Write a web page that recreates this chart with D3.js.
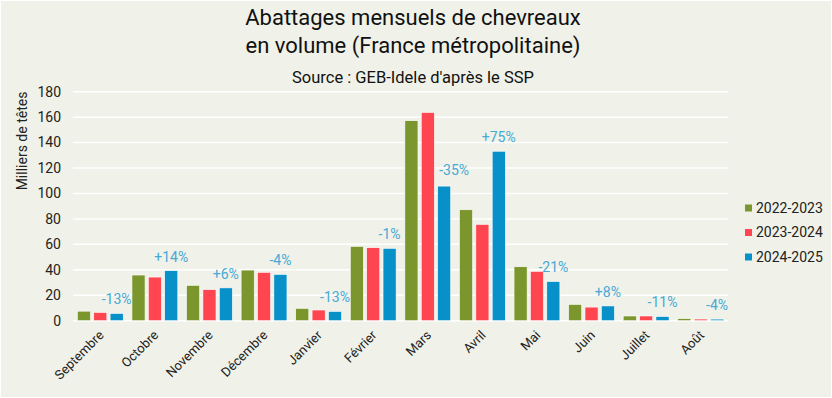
<!DOCTYPE html>
<html>
<head>
<meta charset="utf-8">
<script src="https://cdn.jsdelivr.net/npm/d3@7"></script>
<style>
  body { margin: 0; background: #fff; }
  svg { display: block; }
  text { font-family: Roboto, "Noto Sans", sans-serif; }
</style>
</head>
<body>
<div id="chart"></div>
<script>
// donnees (milliers de tetes)
var mois = ["Septembre", "Octobre", "Novembre", "Décembre", "Janvier", "Février",
            "Mars", "Avril", "Mai", "Juin", "Juillet", "Août"];
var campagnes = ["2022-2023", "2023-2024", "2024-2025"];
var v2022 = [7.5, 35.9, 27.8, 39.8, 9.7, 58.4, 157.2, 87.2, 42.4, 12.8, 3.7, 1.6];
var v2023 = [6.5, 34.3, 24.4, 38.0, 8.4, 57.4, 163.7, 75.7, 38.8, 10.7, 3.7, 1.3];
var v2024 = [5.7, 39.3, 25.8, 36.4, 7.3, 56.9, 105.8, 133.2, 30.8, 11.6, 3.3, 1.25];
var evolutions = ["-13%", "+14%", "+6%", "-4%", "-13%", "-1%",
                  "-35%", "+75%", "-21%", "+8%", "-11%", "-4%"];
var yTicks = [0, 20, 40, 60, 80, 100, 120, 140, 160, 180];
var couleurs = ["#7a962c", "#ff4650", "#0891c8"];

var width = 832, height = 398;
var margin = {top: 91.7, right: 104, bottom: 77.3, left: 73};

var svg = d3.select("#chart").append("svg")
    .attr("width", width)
    .attr("height", height);

svg.append("rect")
    .attr("x", 0.5).attr("y", 0.5)
    .attr("width", width - 1).attr("height", height - 1)
    .attr("fill", "#f0f1e8")
    .attr("stroke", "#ffffff");

var x0 = d3.scaleBand().domain(mois)
    .range([margin.left, width - margin.right])
    .paddingInner(0.16).paddingOuter(0.08);
var x1 = d3.scaleBand().domain(campagnes)
    .range([0, x0.bandwidth()]).paddingInner(0.2);
var y = d3.scaleLinear().domain([0, 180])
    .range([height - margin.bottom, margin.top]);

// grille
svg.append("g").selectAll("line")
    .data(yTicks).enter().append("line")
    .attr("x1", margin.left).attr("x2", width - margin.right)
    .attr("y1", function(d) { return y(d); })
    .attr("y2", function(d) { return y(d); })
    .attr("stroke", "#ffffff")
    .attr("stroke-width", 1.5);

// axe y
svg.append("g").selectAll("text")
    .data(yTicks).enter().append("text")
    .attr("x", 61)
    .attr("y", function(d) { return y(d); })
    .attr("dy", "0.35em")
    .attr("text-anchor", "end")
    .attr("font-size", 14)
    .attr("fill", "#222")
    .text(function(d) { return d; });

svg.append("text")
    .attr("transform", "translate(22," + 141 + ")rotate(-90)")
    .attr("text-anchor", "middle")
    .attr("dy", "0.35em")
    .attr("font-size", 14)
    .attr("fill", "#222")
    .text("Milliers de têtes");

// barres
var series = [v2022, v2023, v2024];
var groupes = svg.append("g").selectAll("g")
    .data(mois).enter().append("g")
    .attr("transform", function(d) { return "translate(" + x0(d) + ",0)"; });

groupes.selectAll("rect")
    .data(function(d, i) {
        return campagnes.map(function(c, j) { return {c: c, v: series[j][i], j: j}; });
    })
    .enter().append("rect")
    .attr("x", function(d) { return x1(d.c); })
    .attr("width", x1.bandwidth())
    .attr("y", function(d) { return y(d.v); })
    .attr("height", function(d) { return y(0) - y(d.v); })
    .attr("fill", function(d) { return couleurs[d.j]; })
    .attr("stroke", "#ffffff")
    .attr("stroke-width", 0.6);

// evolutions au dessus de la derniere campagne
// (decalee a droite si l'etiquette tomberait dans la barre precedente)
groupes.append("text")
    .attr("x", function(d, i) {
        var cx = x1(campagnes[2]) + x1.bandwidth() / 2;
        var ly = y(v2024[i]) - 16;
        return ly > y(v2023[i]) + 20 ? cx + 10 : cx;
    })
    .attr("y", function(d, i) {
        var ly = y(v2024[i]) - 14;
        return ly > y(v2023[i]) + 20 ? ly - 2 : ly;
    })
    .attr("dy", "0.35em")
    .attr("text-anchor", "middle")
    .attr("font-size", 14)
    .attr("fill", "#46a9d6")
    .text(function(d, i) { return evolutions[i]; });

// axe x
svg.append("g").selectAll("text")
    .data(mois).enter().append("text")
    .attr("transform", function(d) {
        return "translate(" + (x0(d) + x0.bandwidth() / 2 + 1) + "," + (y(0) + 12) + ")rotate(-45)";
    })
    .attr("text-anchor", "end")
    .attr("dy", "0.35em")
    .attr("font-size", 13)
    .attr("fill", "#222")
    .text(function(d) { return d; });

// titre
svg.append("text")
    .attr("x", 413).attr("y", 25)
    .attr("text-anchor", "middle")
    .attr("font-size", 22)
    .attr("fill", "#111")
    .text("Abattages mensuels de chevreaux");
svg.append("text")
    .attr("x", 413).attr("y", 53)
    .attr("text-anchor", "middle")
    .attr("font-size", 22)
    .attr("fill", "#111")
    .text("en volume (France métropolitaine)");
svg.append("text")
    .attr("x", 413).attr("y", 83)
    .attr("text-anchor", "middle")
    .attr("font-size", 16.5)
    .attr("fill", "#111")
    .text("Source : GEB-Idele d'après le SSP");

// legende
var legende = svg.append("g").selectAll("g")
    .data(campagnes).enter().append("g")
    .attr("transform", function(d, i) { return "translate(745," + (208 + i * 24.5) + ")"; });
legende.append("rect")
    .attr("x", 0).attr("y", -3.5)
    .attr("width", 7).attr("height", 7)
    .attr("fill", function(d, i) { return couleurs[i]; });
legende.append("text")
    .attr("x", 11).attr("dy", "0.35em")
    .attr("font-size", 14)
    .attr("fill", "#222")
    .text(function(d) { return d; });
</script>
</body>
</html>
